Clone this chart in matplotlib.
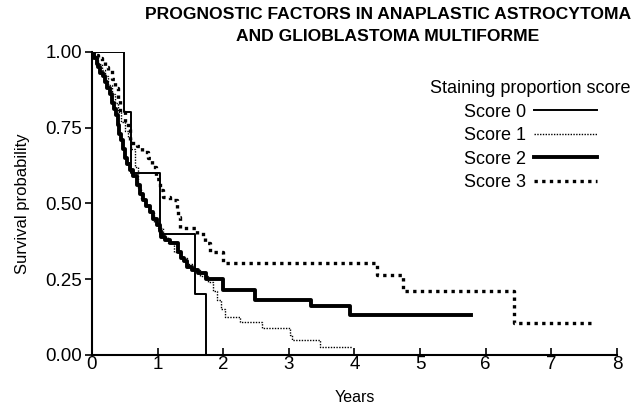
import matplotlib.pyplot as plt
from matplotlib.lines import Line2D

plt.rcParams['font.family'] = ['Liberation Sans', 'DejaVu Sans']

# Score 0
t0 = [0, 0.49, 0.59, 1.04, 1.57, 1.74]
s0 = [1.0, 0.80, 0.60, 0.40, 0.20, 0.0]

# Score 1
t1 = [0, 0.05, 0.10, 0.15, 0.20, 0.25, 0.30, 0.35, 0.40, 0.45, 0.50, 0.55,
      0.60, 0.65, 0.70, 0.75, 0.82, 0.88, 0.95, 1.00, 1.08, 1.16, 1.25, 1.35,
      1.45, 1.55, 1.65, 1.77, 1.85, 1.90, 1.96, 2.03, 2.26, 2.59, 3.02, 3.05,
      3.48, 3.96]
s1 = [1.0, 0.98, 0.96, 0.94, 0.92, 0.89, 0.86, 0.83, 0.80, 0.77, 0.74, 0.72,
      0.68, 0.62, 0.55, 0.51, 0.49, 0.47, 0.44, 0.42, 0.39, 0.37, 0.34, 0.32,
      0.30, 0.28, 0.26, 0.24, 0.21, 0.18, 0.15, 0.125, 0.11, 0.089, 0.066,
      0.05, 0.026, 0.026]

# Score 2
t2 = [0, 0.03, 0.07, 0.10, 0.13, 0.17, 0.20, 0.23, 0.27, 0.30, 0.33, 0.36,
      0.39, 0.42, 0.45, 0.48, 0.51, 0.54, 0.58, 0.63, 0.68, 0.73, 0.78, 0.83,
      0.88, 0.93, 0.99, 1.03, 1.06, 1.12, 1.19, 1.31, 1.35, 1.40, 1.45, 1.52,
      1.62, 1.74, 2.00, 2.49, 3.34, 3.93, 5.77]
s2 = [1.0, 0.98, 0.96, 0.95, 0.93, 0.92, 0.90, 0.88, 0.86, 0.83, 0.81, 0.79,
      0.76, 0.73, 0.71, 0.68, 0.65, 0.63, 0.61, 0.59, 0.56, 0.53, 0.51, 0.49,
      0.47, 0.45, 0.43, 0.41, 0.39, 0.38, 0.37, 0.34, 0.32, 0.31, 0.29, 0.28,
      0.27, 0.25, 0.215, 0.18, 0.162, 0.132, 0.132]

# Score 3
t3 = [0, 0.05, 0.10, 0.15, 0.20, 0.25, 0.30, 0.35, 0.40, 0.43, 0.50, 0.55,
      0.58, 0.69, 0.76, 0.85, 0.91, 0.98, 1.04, 1.08, 1.19, 1.29, 1.31, 1.34,
      1.60, 1.72, 1.80, 2.00, 4.34, 4.74, 6.43, 7.60]
s3 = [1.0, 0.99, 0.98, 0.97, 0.95, 0.94, 0.91, 0.88, 0.84, 0.80, 0.77, 0.75,
      0.70, 0.69, 0.67, 0.65, 0.62, 0.58, 0.545, 0.52, 0.51, 0.48, 0.455, 0.42,
      0.40, 0.37, 0.34, 0.305, 0.264, 0.211, 0.107, 0.107]

labels = ["Score 0", "Score 1", "Score 2", "Score 3"]
x_ticks = [0, 1, 2, 3, 4, 5, 6, 7, 8]
y_ticks = [0.0, 0.25, 0.5, 0.75, 1.0]
y_tick_labels = ["0.00", "0.25", "0.50", "0.75", "1.00"]

styles = [
    dict(color="black", lw=1.4, ls="-"),
    dict(color="black", lw=1.0, ls=(0, (1, 1))),
    dict(color="black", lw=2.8, ls="-"),
    dict(color="black", lw=2.4, ls=(0, (1, 1.3))),
]

fig = plt.figure(figsize=(6.34, 4.08), dpi=100)
ax = fig.add_axes([0.145, 0.130, 0.828, 0.743])

for t, s, st in zip([t0, t1, t2, t3], [s0, s1, s2, s3], styles):
    ax.step(t, s, where="post", **st)

ax.set_xlim(0, 8)
ax.set_ylim(0, 1)
ax.set_xticks(x_ticks)
ax.set_yticks(y_ticks)
ax.set_yticklabels(y_tick_labels)
ax.tick_params(axis="x", direction="in", length=5, width=1.2, labelsize=13.5, pad=1)
ax.tick_params(axis="y", direction="out", length=5, width=1.2, labelsize=13.5, pad=2)
for side in ["top", "right"]:
    ax.spines[side].set_visible(False)
for side in ["left", "bottom"]:
    ax.spines[side].set_linewidth(1.5)

ax.set_xlabel("Years", fontsize=11.5, labelpad=12)
ax.set_ylabel("Survival probability", fontsize=12, labelpad=11)

handles = [Line2D([0], [0], **st) for st in styles]
ax.legend(handles, labels, title="Staining proportion score",
          loc="upper center", bbox_to_anchor=(0.835, 0.93),
          borderaxespad=0, frameon=False, markerfirst=False, fontsize=13,
          title_fontsize=13, handlelength=3.5, labelspacing=0.36,
          handletextpad=0.45)

fig.text(0.612, 0.982, "PROGNOSTIC FACTORS IN ANAPLASTIC ASTROCYTOMA\n"
         "AND GLIOBLASTOMA MULTIFORME", ha="center", va="top",
         fontsize=12.6, fontweight="bold", linespacing=1.55)

fig.savefig("out.png", dpi=100)
